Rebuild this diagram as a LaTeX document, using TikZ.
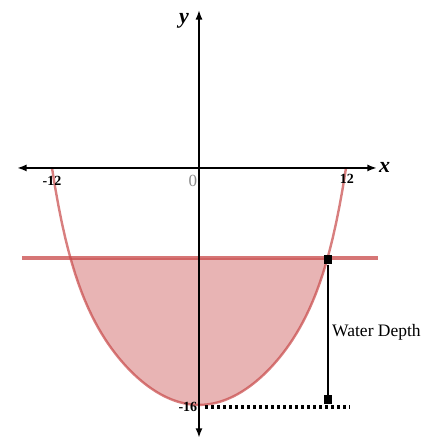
\documentclass[tikz,border=0pt]{standalone}
\usepackage{fontspec}
\setmainfont{Liberation Serif}
\usetikzlibrary{arrows.meta,positioning}
\definecolor{rot}{HTML}{C84848}
\definecolor{rotl}{HTML}{E8B4B4}
\definecolor{grau}{HTML}{8C8C8C}
\tikzset{
  ax/.style={{Latex[length=3.4mm,width=2.5mm]}-{Latex[length=3.4mm,width=2.5mm]},black,line width=2.6pt},
  kurve/.style={rot,opacity=0.7,line width=2.4pt},
  wasser/.style={rot,opacity=0.75,line width=4pt},
  marke/.style={fill=black,inner sep=0pt,minimum width=8pt,minimum height=9pt},
  punkte/.style={black,line width=3.4pt,dash pattern=on 3pt off 3pt},
  zahl/.style={font=\bfseries\fontsize{14}{14}\selectfont,inner sep=1pt},
  achsname/.style={font=\bfseries\itshape\fontsize{22}{22}\selectfont,inner sep=1pt},
  declare function={tief(\x)=-16+0.073*\x*\x+5.49*(\x/12)*(\x/12)*(\x/12)*(\x/12)*(\x/12)*(\x/12)*(\x/12)*(\x/12);},
}

\begin{document}
\begin{tikzpicture}[x=12.25pt,y=14.81pt]
  \useasboundingbox (-16.245,-18.37) rectangle (19.59,11.34);
  % water under the surface
  \fill[rotl] plot[domain=-10.49:10.49,samples=70] (\x,{tief(\x)}) -- cycle;
  \draw[kurve] plot[domain=-12:12,samples=90] (\x,{tief(\x)});
  \coordinate (wl) at (-14.45,-6.08); \coordinate (wr) at (14.61,-6.08);
  \draw[wasser] (wl) -- (wr);
  % axes
  \coordinate (xl) at (-14.86,0); \coordinate (xr) at (14.53,0);
  \coordinate (yo) at (0,10.67);  \coordinate (yu) at (0,-18.23);
  \draw[ax] (xl) -- (xr);
  \draw[ax] (yu) -- (yo);
  \node[achsname,right=1pt of xr] (xname) {x};
  \node[achsname] (yname) at (-1.22,9.95) {y};
  \node[zahl] (links) at (-12,-0.85) {-12};
  \node[zahl] (rechts) at (12.08,-0.72) {12};
  \node[zahl,grau,font=\fontsize{17}{17}\selectfont] (null) at (-0.5,-0.9) {0};
  \node[zahl,anchor=east] (boden) at (-0.05,-16.12) {-16};
  % depth
  \coordinate (ds) at (0.49,-16.14); \coordinate (de) at (12.33,-16.14);
  \draw[punkte] (ds) -- (de);
  \node[marke] (oben) at (10.53,-6.21) {};
  \node[marke] (unten) at (10.53,-15.66) {};
  \draw[black,line width=2.6pt] (oben) -- (unten);
  \node[anchor=west,inner sep=0pt,font=\fontsize{17.5}{17.5}\selectfont] (tiefe) at (10.86,-11.07) {Water Depth};
\end{tikzpicture}
\end{document}
